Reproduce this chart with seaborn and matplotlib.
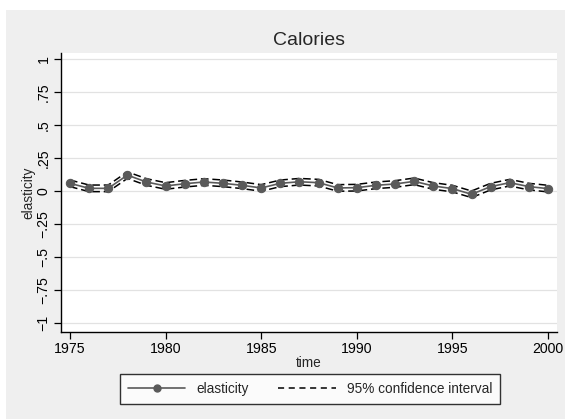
import numpy as np
import pandas as pd
import matplotlib
matplotlib.use("Agg")
import matplotlib.pyplot as plt
import seaborn as sns
from matplotlib.patches import Rectangle
from matplotlib.lines import Line2D

# values
years = list(range(1975, 2001))
elasticity = [0.058, 0.020, 0.020, 0.120, 0.068, 0.038, 0.055, 0.068, 0.058, 0.043,
              0.023, 0.058, 0.070, 0.063, 0.023, 0.025, 0.043, 0.053, 0.073, 0.038,
              0.018, -0.025, 0.033, 0.063, 0.033, 0.018]
ci_half = [0.025] * len(years)

upper = [e + h for e, h in zip(elasticity, ci_half)]
lower = [e - h for e, h in zip(elasticity, ci_half)]

df = pd.DataFrame({"time": years, "elasticity": elasticity, "upper": upper, "lower": lower})

sns.set_theme(style="white")
plt.rcParams["font.family"] = ["Liberation Sans", "DejaVu Sans"]

fig = plt.figure(figsize=(5.65, 4.19), dpi=100, facecolor="white")
# Stata-like gray graph region, behind the axes
fig.add_artist(Rectangle((6 / 565, 0), 1, 1 - 10 / 419, transform=fig.transFigure,
                         facecolor="#efefef", edgecolor="none", zorder=-10))

ax = fig.add_axes([61 / 565, 1 - 332 / 419, (557 - 61) / 565, (332 - 53) / 419])
ax.set_zorder(1)
ax.set_facecolor("white")

dash = (0, (5, 2.5))
sns.lineplot(data=df, x="time", y="upper", ax=ax, color="black", linewidth=1.1,
             linestyle=dash)
sns.lineplot(data=df, x="time", y="lower", ax=ax, color="black", linewidth=1.1,
             linestyle=dash)
sns.lineplot(data=df, x="time", y="elasticity", ax=ax, color="#5a5a5a", linewidth=1.2,
             marker="o", markersize=6, markeredgecolor="#5a5a5a")

yt = [1, 0.75, 0.5, 0.25, 0, -0.25, -0.5, -0.75, -1]
ylabels = ["1", ".75", ".5", ".25", "0", "\u2212.25", "\u2212.5", "\u2212.75", "\u22121"]
ax.set_yticks(yt)
ax.set_yticklabels(ylabels, rotation=90, va="center")
ax.set_xticks([1975, 1980, 1985, 1990, 1995, 2000])
ax.set_xlim(1974.53, 2000.47)
ax.set_ylim(-1.068, 1.045)
ax.yaxis.grid(True, color="#e2e2e2", linewidth=0.9)
ax.xaxis.grid(False)
ax.set_axisbelow(True)

for side in ["top", "right"]:
    ax.spines[side].set_visible(False)
for side in ["left", "bottom"]:
    ax.spines[side].set_color("black")
    ax.spines[side].set_linewidth(1.0)
ax.tick_params(axis="both", direction="out", length=5, width=0.9, color="black",
               labelsize=10.2, labelcolor="black", left=True, bottom=True, pad=2.5)

ax.set_xlabel("time", fontsize=9.8, labelpad=0)
ax.set_ylabel("elasticity", fontsize=9.8, labelpad=1)
ax.set_title("Calories", fontsize=14, pad=6)

handles = [
    Line2D([], [], color="#5a5a5a", linewidth=1.2, marker="o", markersize=5),
    Line2D([], [], color="black", linewidth=1.1, linestyle=(0, (4, 3))),
]
leg = fig.legend(handles, ["elasticity", "95% confidence interval"], ncol=2,
                 loc="center", bbox_to_anchor=(310 / 565, 1 - 389 / 419),
                 frameon=True, fancybox=False, fontsize=9.8, handlelength=4.2,
                 columnspacing=2.2, borderpad=0.6, handletextpad=0.8)
leg.get_frame().set_edgecolor("black")
leg.get_frame().set_linewidth(1.0)
leg.get_frame().set_facecolor("white")

fig.savefig("out.png", dpi=100, facecolor=fig.get_facecolor())
